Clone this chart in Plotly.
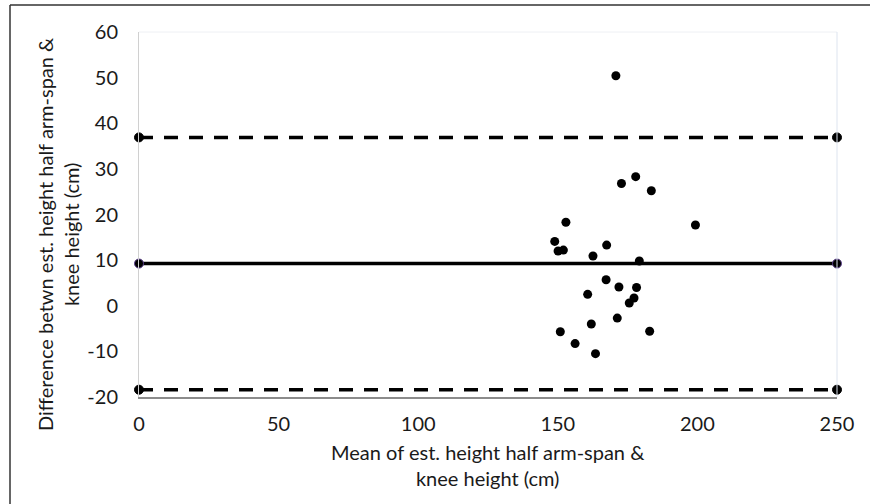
import plotly.graph_objects as go

# Data
mean_x = [170.8, 172.8, 177.9, 183.5, 152.9, 199.3, 148.9, 167.5, 150.1, 152.0,
          162.6, 179.2, 167.3, 171.9, 178.2, 160.7, 177.3, 175.6, 171.3, 162.0,
          150.9, 182.9, 156.2, 163.5]
diff_y = [50.4, 26.8, 28.3, 25.2, 18.3, 17.7, 14.1, 13.3, 12.0, 12.2,
          10.9, 9.8, 5.7, 4.1, 4.0, 2.5, 1.7, 0.6, -2.7, -4.0,
          -5.7, -5.6, -8.3, -10.5]
line_x = [0, 250]
mean_diff = 9.25
upper_loa = 36.9
lower_loa = -18.4
x_ticks = [0, 50, 100, 150, 200, 250]
y_ticks = [-20, -10, 0, 10, 20, 30, 40, 50, 60]
y_tick_text = ["-20", "-10", "0", "10", "20", "30", "40", "50", "60"]

FONT = "Lato"
TXT = "#1a1a1a"
FS = 20

fig = go.Figure()

for yv, dash in [(upper_loa, "14px,11px"), (lower_loa, "14px,11px"), (mean_diff, "solid")]:
    fig.add_trace(go.Scatter(
        x=line_x, y=[yv, yv], mode="lines+markers",
        line=dict(color="black", width=3.5, dash=dash),
        marker=dict(size=9, color="black",
                    line=dict(color="#5b3f8c" if dash == "solid" else "black", width=1)),
        cliponaxis=False, showlegend=False, hoverinfo="skip"))

fig.add_trace(go.Scatter(
    x=mean_x, y=diff_y, mode="markers",
    marker=dict(size=9, color="black"),
    cliponaxis=False, showlegend=False))

fig.update_layout(
    width=870, height=504,
    margin=dict(l=139, r=33, t=32, b=107),
    paper_bgcolor="white", plot_bgcolor="white",
    font=dict(family=FONT, size=FS, color=TXT),
    xaxis=dict(range=[0, 250], tickvals=x_ticks, showgrid=False, zeroline=False,
               showline=True, linecolor="#8c8c8c", linewidth=1.5,
               ticks="", ticklabelstandoff=8, fixedrange=True),
    yaxis=dict(range=[-20, 60], tickvals=y_ticks, ticktext=y_tick_text,
               showgrid=False, zeroline=False,
               showline=True, linecolor="#d0d0d0", linewidth=1,
               ticks="", ticklabelstandoff=16, fixedrange=True),
    shapes=[
        dict(type="line", xref="paper", yref="paper", x0=0, x1=1, y0=1, y1=1,
             line=dict(color="#eef0f4", width=1)),
        dict(type="line", xref="paper", yref="paper", x0=1, x1=1, y0=0, y1=1,
             line=dict(color="#dde4ef", width=1)),
        dict(type="line", xref="paper", yref="paper",
             x0=(10 - 139) / 698, x1=(870 - 139) / 698,
             y0=1 + (32 - 5) / 365, y1=1 + (32 - 5) / 365,
             line=dict(color="#333333", width=1.5)),
        dict(type="line", xref="paper", yref="paper",
             x0=(10 - 139) / 698, x1=(10 - 139) / 698,
             y0=1 + (32 - 5) / 365, y1=-(504 - 397) / 365,
             line=dict(color="#333333", width=1.5)),
    ],
    annotations=[
        dict(text="Mean of est. height half arm-span &<br>knee height (cm)",
             xref="paper", yref="paper", x=0.5, y=-(464.5 - 397) / 365,
             xanchor="center", yanchor="middle", showarrow=False,
             font=dict(family=FONT, size=FS, color=TXT)),
        dict(text="Difference betwn est. height half arm-span &<br>knee height (cm)",
             xref="paper", yref="paper", x=(58 - 139) / 698, y=1 - (234 - 32) / 365,
             xanchor="center", yanchor="middle", showarrow=False, textangle=-90,
             font=dict(family=FONT, size=FS, color=TXT)),
    ],
)

fig.write_html("out.html", config={"displayModeBar": False},
               post_script="document.body.style.margin='0';")
